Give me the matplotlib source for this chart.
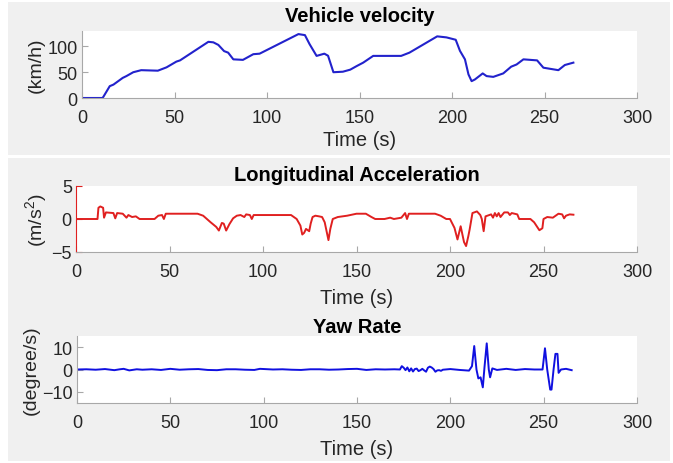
import matplotlib
matplotlib.use("Agg")
import matplotlib.pyplot as plt
from matplotlib.patches import Rectangle

plt.rcParams['font.family'] = ['Liberation Sans', 'DejaVu Sans']
plt.rcParams['mathtext.fontset'] = 'custom'
plt.rcParams['mathtext.rm'] = 'Liberation Sans'
plt.rcParams['mathtext.it'] = 'Liberation Sans:italic'

# ---------------- data ----------------
vel_t = [0, 11, 11.5, 15, 17, 22, 24, 27.7, 32, 41, 45.7, 51, 53, 68.3, 71, 73.7, 76.8, 79,
         81.8, 87, 92.6, 96, 117, 120.5, 123, 126.8, 131, 133, 135.9, 141, 145, 148.5, 152,
         157.4, 172.5, 177, 192, 197, 202, 204.3, 207, 208.9, 210.6, 212.4, 216.6, 218.7,
         222.3, 227.7, 232, 234.9, 238.6, 246, 249.4, 257.5, 261, 265.6]
vel_v = [0, 0, 2, 23, 26, 39, 42.5, 50, 54, 53, 59.5, 70.6, 73, 109, 108, 103, 91, 88,
         75, 74, 85, 86, 124, 122, 104.6, 81.7, 86, 82, 50, 51, 55, 62, 68.6,
         81.7, 81.7, 88, 119.6, 117.6, 113, 91.5, 75, 45.8, 32.7, 36, 47.7, 42.5,
         41, 47.7, 60.8, 65, 75, 73, 58.8, 54, 64, 68.6]

acc_t = [0, 11.5, 12, 13, 14.5, 15, 16, 20, 21, 22, 25, 27, 28, 30, 32, 34, 42, 44, 46, 47,
         48, 55, 65, 68, 70, 72, 75, 76.4, 78, 79, 80.3, 82, 84, 86, 88, 90, 91, 93, 94, 95,
         115, 118, 120, 121, 122, 123, 124.7, 125.5, 126.5, 128, 130, 131.6, 133, 135, 136,
         137.3, 140, 145, 150, 155, 158, 160, 165, 168, 170, 174, 176, 177, 178, 185, 192,
         195, 198, 200, 202.4, 204, 205.7, 207.5, 208.6, 209.8, 210.5, 212, 214.4, 216.2,
         217, 218, 219, 220, 222, 223, 224, 225, 226, 227, 229, 231, 232, 233, 236, 237,
         243, 245, 247.8, 249.4, 250, 252, 255, 258, 260, 261, 262, 264, 266]
acc_a = [0, 0, 1.7, 1.9, 1.7, 0.2, 1.0, 0.9, 0.1, 0.9, 0.8, 0.2, 0.6, 0.3, 0.4, 0, 0, 0.5, 0.6, 0,
         0.8, 0.8, 0.8, 0.5, 0, -0.5, -1.2, -1.75, -0.6, -0.7, -1.75, -0.8, 0.1, 0.5, 0.6, 0.3, 0.7, 0.6, 0, 0.6,
         0.6, 0, -1.0, -2.35, -2.1, -1.5, -1.85, -0.7, 0.3, 0.5, 0.4, 0.3, -0.5, -3.2, -1.5,
         0, 0.3, 0.5, 0.8, 0.8, 0.3, 0, 0, 0.2, 0, 0.2, 0.9, 0, 0.8, 0.8, 0.8,
         0.5, 0, 0, -1.35, -3.1, -1.1, -3.5, -4.1, -2.6, -1.6, 0.9, 1.15, 0.6,
         0, -1.85, 0.4, 0.5, 0.7, 0.2, 0.9, 0.4, 0.9, 0.3, 1.0, 1.0, 0.6, 0.9, 0.7, 0,
         0, -0.5, -1.7, -1.4, 0, 0.3, 0.2, 0.8, 0.7, 0.1, 0.5, 0.7, 0.65]

yaw_t = [0, 5, 10, 15, 20, 23, 25, 28, 32, 35, 40, 45, 50, 55, 60, 65, 70, 75, 80, 85, 90, 95,
         98, 105, 110, 115, 120, 125, 130, 135, 140, 145, 150, 155, 160, 165, 170, 173, 174,
         175, 176, 177, 178, 179, 180, 181, 182, 183, 184, 185, 186, 187, 188, 189, 190, 191,
         192, 193, 194, 195, 196, 200, 205, 210, 211.6, 212.8, 214, 215, 216.2, 217.4, 218.3,
         219.5, 220.6, 221.3, 222.5, 225, 230, 235, 240, 245, 249.4, 250.7, 251.9, 253.5,
         254.2, 255.3, 256.3, 257.4, 258, 259.3, 262, 265]
yaw_r = [0, 0.1, -0.1, 0.2, -0.3, 0.1, 0.3, -0.4, 0.1, -0.1, 0.1, -0.2, 0.3, -0.1, 0.1, 0.2,
         -0.2, -0.3, 0.1, 0.1, -0.1, -0.2, 0.3, 0, 0.1, -0.1, -0.2, 0.1, 0.1, -0.1, 0, 0.2,
         0.3, -0.2, 0.1, 0, 0.1, 0, 1.5, 0.8, -0.3, 0.9, -0.8, 0.5, -0.9, 0.2, 0.4, -0.7,
         -0.3, 0.3, -0.4, -1.0, 0.8, 1.3, 0.9, 0.2, -1.0, -0.4, -0.3, -0.6, -0.1, 0.2, -0.2,
         -0.5, 1.5, 10.5, 0, -4, -3.5, -8, 1, 11.7, 0, -3.5, 0.5, -0.2, 0.3, -0.2, 0.2, 0,
         0, 9.5, 0, -9, -9, 0, 7, 7, -1.5, 0, 0.3, -0.3]

# ---------------- figure ----------------
W, H = 673, 464
fig = plt.figure(figsize=(W / 100, H / 100), dpi=100, facecolor='white')

def px_rect(x0, y0, x1, y1):
    return Rectangle((x0 / W, 1 - y1 / H), (x1 - x0) / W, (y1 - y0) / H,
                     transform=fig.transFigure, facecolor='#f0f0f0', edgecolor='none', zorder=-10)

fig.patches.append(px_rect(8, 3, 670, 156))
fig.patches.append(px_rect(8, 159, 670, 462))

def px_axes(l, t, r, b):
    return fig.add_axes([l / W, 1 - b / H, (r - l) / W, (b - t) / H])

TXT = '#262626'
SP = '#a8a8a8'
FS = 13
FL = 14.5

def style(ax, title, ylabel, tpad, xlpad, spine_col=SP):
    ax.set_facecolor('white')
    for s in ['top', 'right']:
        ax.spines[s].set_visible(False)
    ax.spines['bottom'].set_color(SP)
    ax.spines['left'].set_color(spine_col)
    ax.tick_params(direction='in', length=4, labelsize=FS, labelcolor=TXT, width=0.8)
    ax.tick_params(axis='x', colors=SP, labelcolor=TXT, pad=8)
    ax.tick_params(axis='y', colors=spine_col, labelcolor=TXT, pad=3)
    ax.set_xlim(0, 300)
    ax.set_xticks([0, 50, 100, 150, 200, 250, 300])
    ax.set_xlabel('Time (s)', fontsize=FL, color=TXT, labelpad=xlpad)
    ax.set_ylabel(ylabel, fontsize=FL - 0.5, color=TXT, labelpad=2)
    ax.set_title(title, fontsize=FL, fontweight='bold', color='black', pad=tpad)

ax1 = px_axes(82, 32, 637, 99)
ax1.plot(vel_t, vel_v, color='#2222cc', lw=1.5)
ax1.set_ylim(0, 130)
ax1.set_yticks([0, 50, 100])
style(ax1, 'Vehicle velocity', '(km/h)', 7, 3)

ax2 = px_axes(76, 187, 637, 253)
ax2.plot(acc_t, acc_a, color='#e02020', lw=1.4)
ax2.set_ylim(-5, 5)
ax2.set_yticks([-5, 0, 5])
style(ax2, 'Longitudinal Acceleration', r'(m/s$^2$)', 4, 6, spine_col='#e02020')

ax3 = px_axes(77, 337, 637, 404)
ax3.plot(yaw_t, yaw_r, color='#1010e0', lw=1.4)
ax3.set_ylim(-15, 15)
ax3.set_yticks([-10, 0, 10])
style(ax3, 'Yaw Rate', '(degree/s)', 1, 6)

fig.savefig('out.png', dpi=100, facecolor='white')
